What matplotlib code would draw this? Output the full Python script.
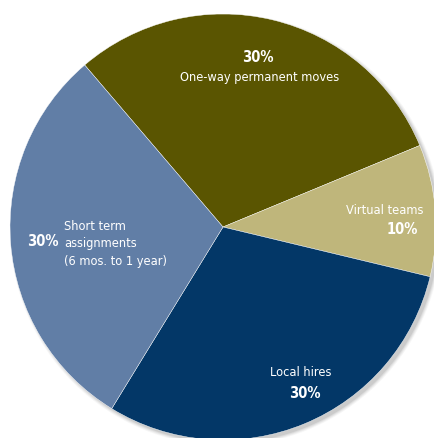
import matplotlib.pyplot as plt
from matplotlib.patches import Circle

# shares of each assignment type, clockwise from the top
labels = ['One-way permanent moves', 'Virtual teams', 'Local hires',
          'Short term\nassignments\n(6 mos. to 1 year)']
shares = [30, 10, 30, 30]
colors = ['#5a5501', '#bfb67b', '#033767', '#617ea6']

plt.rcParams['font.family'] = ['DejaVu Sans']
plt.rcParams['font.stretch'] = 'condensed'

fig = plt.figure(figsize=(4.35, 4.39), dpi=100)
ax = fig.add_axes([0, 0, 1, 1])

cx, cy, r = 223, 211, 213

# soft drop shadow below and to the right
for i, a in enumerate([0.05, 0.07, 0.09, 0.12]):
    ax.add_patch(Circle((cx + 3, cy - 3), r + 3 - i, color='#555555', alpha=a, lw=0, zorder=0))

wedges, _ = ax.pie(shares, colors=colors, startangle=130.5, counterclock=False,
                   radius=r, center=(cx, cy), frame=True,
                   wedgeprops=dict(edgecolor='#ffffff', linewidth=0.3))
ax.set_xlim(0, 435)
ax.set_ylim(0, 439)
ax.set_aspect('equal')
ax.axis('off')

txt = dict(color='white', fontsize=9.2, fontstretch='condensed')
pct = dict(color='white', fontsize=10.5, fontweight='bold', fontstretch='condensed')

def py(y):
    return 439 - y

ax.text(258, py(58), f'{shares[0]}%', ha='center', va='center', **pct)
ax.text(260, py(77), labels[0], ha='center', va='center', **txt)

ax.text(423, py(211), labels[1], ha='right', va='center', **txt)
ax.text(418, py(229), f'{shares[1]}%', ha='right', va='center', **pct)

ax.text(301, py(373), labels[2], ha='center', va='center', **txt)
ax.text(305, py(394), f'{shares[2]}%', ha='center', va='center', **pct)

ax.text(64, py(244), labels[3], ha='left', va='center', linespacing=1.45, **txt)
ax.text(43, py(241), f'{shares[3]}%', ha='center', va='center', **pct)

fig.savefig('out.png', dpi=100)
